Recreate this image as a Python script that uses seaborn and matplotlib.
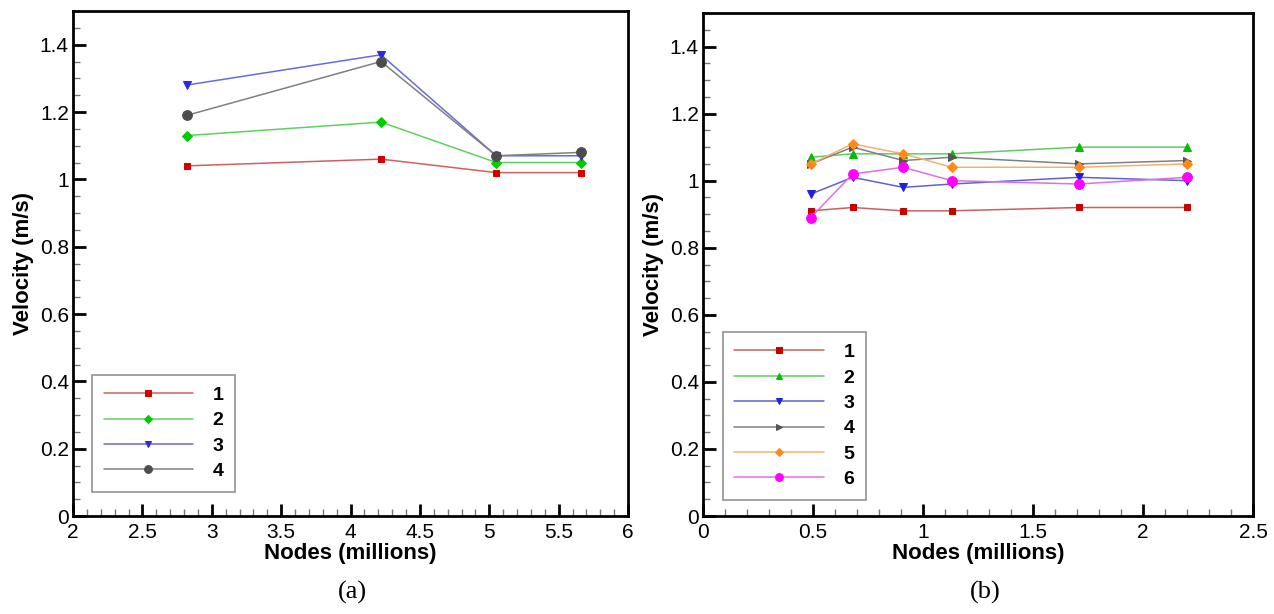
import numpy as np
import pandas as pd
import matplotlib
matplotlib.use("Agg")
import matplotlib.pyplot as plt
import seaborn as sns
from matplotlib.ticker import MultipleLocator, FormatStrFormatter

# panel (a)
nodes_a = [2.82, 4.22, 5.05, 5.66]
vel_a = {
    "1": [1.04, 1.06, 1.02, 1.02],
    "2": [1.13, 1.17, 1.05, 1.05],
    "3": [1.28, 1.37, 1.07, 1.07],
    "4": [1.19, 1.35, 1.07, 1.08],
}
# panel (b)
nodes_b = [0.49, 0.68, 0.91, 1.13, 1.71, 2.20]
vel_b = {
    "1": [0.91, 0.92, 0.91, 0.91, 0.92, 0.92],
    "2": [1.07, 1.08, 1.08, 1.08, 1.10, 1.10],
    "3": [0.96, 1.01, 0.98, 0.99, 1.01, 1.00],
    "4": [1.05, 1.10, 1.06, 1.07, 1.05, 1.06],
    "5": [1.05, 1.11, 1.08, 1.04, 1.04, 1.05],
    "6": [0.89, 1.02, 1.04, 1.00, 0.99, 1.01],
}

colors_a = {"1": "#d40000", "2": "#00cc00", "3": "#2a2ae0", "4": "#4d4d4d"}
markers_a = {"1": "s", "2": "D", "3": "v", "4": "o"}
msize_a = {"1": 5, "2": 5, "3": 6, "4": 7}
colors_b = {"1": "#c80000", "2": "#00c000", "3": "#2020e0", "4": "#555555",
            "5": "#ff8a1a", "6": "#ff00ff"}
markers_b = {"1": "s", "2": "^", "3": "v", "4": ">", "5": "D", "6": "o"}
msize_b = {"1": 5, "2": 6, "3": 6, "4": 6, "5": 5, "6": 7}
linecol = {"#d40000": "#d06060", "#c80000": "#c86060", "#00cc00": "#60d060",
           "#00c000": "#60cc60", "#2a2ae0": "#6a6ae0", "#2020e0": "#6060d8",
           "#4d4d4d": "#808080", "#555555": "#808080", "#ff8a1a": "#f5b070",
           "#ff00ff": "#e070e0"}


def long_df(x, series):
    rows = []
    for k, v in series.items():
        for xi, yi in zip(x, v):
            rows.append({"nodes": xi, "vel": yi, "case": k})
    return pd.DataFrame(rows)


sns.set_style("white")
plt.rcParams['font.family'] = ['Liberation Sans', 'DejaVu Sans']
plt.rcParams['text.color'] = 'black'
plt.rcParams['axes.labelcolor'] = 'black'
plt.rcParams['xtick.color'] = 'black'
plt.rcParams['ytick.color'] = 'black'

fig = plt.figure(figsize=(12.74, 6.14), dpi=100)
ax1 = fig.add_axes([73 / 1274, 1 - 516 / 614, 555 / 1274, 505 / 614])
ax2 = fig.add_axes([703 / 1274, 1 - 516 / 614, 550 / 1274, 503 / 614])


def draw(ax, x, series, colors, markers, msize, xlim, xmaj, legpos):
    df = long_df(x, series)
    order = list(series.keys())
    for k in order:
        sub = df[df["case"] == k]
        sns.lineplot(data=sub, x="nodes", y="vel", ax=ax, color=linecol[colors[k]],
                     lw=1.1, marker=markers[k], markersize=msize[k],
                     markerfacecolor=colors[k], markeredgecolor=colors[k],
                     label=k, sort=False)
    ax.set_xlim(*xlim)
    ax.set_ylim(0, 1.5)
    ax.xaxis.set_major_locator(MultipleLocator(xmaj))
    ax.xaxis.set_minor_locator(MultipleLocator(0.1))
    ax.yaxis.set_major_locator(MultipleLocator(0.2))
    ax.yaxis.set_minor_locator(MultipleLocator(0.05))
    ax.xaxis.set_major_formatter(FormatStrFormatter('%g'))
    ax.yaxis.set_major_formatter(FormatStrFormatter('%g'))
    ax.tick_params(which='major', direction='in', length=9, width=2,
                   labelsize=15, bottom=True, left=True, colors='black')
    ax.tick_params(axis='x', which='major', pad=5)
    ax.tick_params(axis='y', which='major', pad=3)
    ax.tick_params(which='minor', direction='in', length=5, width=1,
                   bottom=True, left=True, colors='#777777')
    for s in ax.spines.values():
        s.set_color('black')
        s.set_linewidth(2)
    ax.set_xlabel("Nodes (millions)", fontsize=16, fontweight='bold',
                  labelpad=1, color='black')
    ax.set_ylabel("Velocity (m/s)", fontsize=16, fontweight='bold',
                  labelpad=4, color='black')
    leg = ax.legend(loc='lower left', bbox_to_anchor=legpos, frameon=True,
                    fancybox=False, handlelength=4.6, handletextpad=1.0,
                    borderpad=0.6, labelspacing=0.4, markerscale=0.8,
                    prop={'weight': 'bold', 'size': 14}, borderaxespad=0)
    leg.get_frame().set_edgecolor('#777777')
    leg.get_frame().set_linewidth(1.2)


draw(ax1, nodes_a, vel_a, colors_a, markers_a, msize_a, (2, 6), 0.5, (0.034, 0.048))
draw(ax2, nodes_b, vel_b, colors_b, markers_b, msize_b, (0, 2.5), 0.5, (0.036, 0.032))

fig.text(352 / 1274, 1 - 592 / 614, "(a)", ha='center', va='center',
         fontsize=19, family='Liberation Serif')
fig.text(985 / 1274, 1 - 592 / 614, "(b)", ha='center', va='center',
         fontsize=19, family='Liberation Serif')

fig.savefig("out.png", dpi=100)
